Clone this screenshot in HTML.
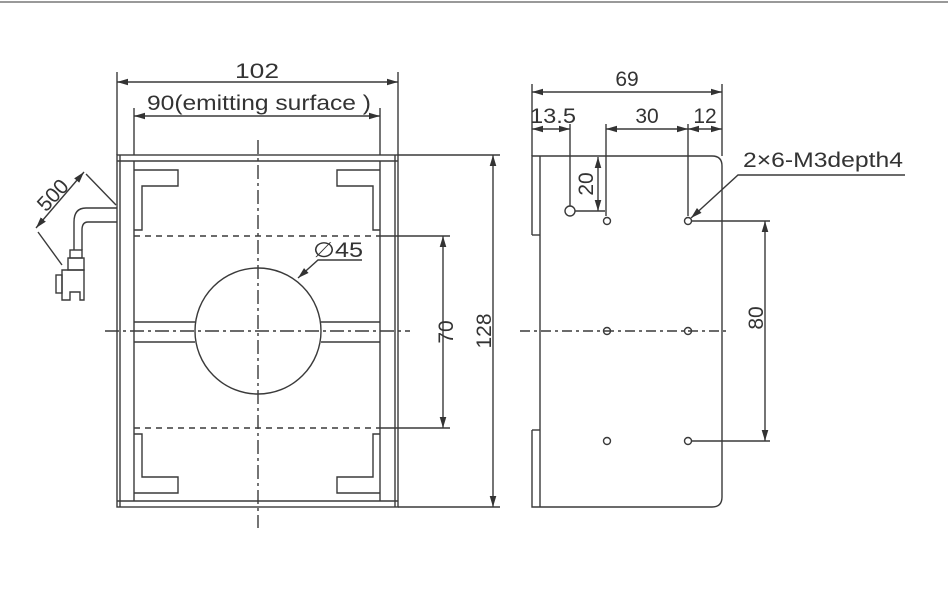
<!DOCTYPE html>
<html><head><style>body{margin:0;background:#fff}svg{display:block}text{font-family:"Liberation Sans",sans-serif;fill:#333}</style></head><body>
<svg width="948" height="614" viewBox="0 0 948 614" xmlns="http://www.w3.org/2000/svg">
<defs><marker id="a" viewBox="0 0 10 6" refX="10" refY="3" markerWidth="8" markerHeight="5" orient="auto-start-reverse"><path d="M0,0L10,3L0,6z" fill="#333"/></marker></defs>
<line x1="0" y1="2" x2="948" y2="2" stroke="#999" stroke-width="2"/>
<g stroke="#3a3a3a" stroke-width="1.4" fill="none">
<rect x="117" y="155" width="281" height="352"/>
<line x1="117" y1="161" x2="398" y2="161"/>
<line x1="117" y1="501" x2="398" y2="501"/>
<line x1="134" y1="161" x2="134" y2="501"/>
<line x1="380" y1="161" x2="380" y2="501"/>
<line x1="120" y1="155" x2="120" y2="507"/>
<line x1="395" y1="155" x2="395" y2="507"/>
<path d="M134,170H178V186H142V230H134"/>
<path d="M380,170H337V186H373V230H380"/>
<path d="M134,493H178V477H142V434H134"/>
<path d="M380,493H337V477H373V434H380"/>
<line x1="134" y1="322" x2="195" y2="322"/><line x1="134" y1="342" x2="195" y2="342"/>
<line x1="321" y1="322" x2="380" y2="322"/><line x1="321" y1="342" x2="380" y2="342"/>
<circle cx="258" cy="331" r="63"/>
<g stroke-dasharray="6,5"><line x1="134" y1="236" x2="380" y2="236"/><line x1="134" y1="428" x2="380" y2="428"/></g>
<g stroke-dasharray="14,4,3,4"><line x1="258" y1="140" x2="258" y2="528"/><line x1="105" y1="331" x2="410" y2="331"/></g>
<path d="M117,208H86Q74,208 74,222V250M117,222H88Q82,222 82,230V250"/>
<rect x="70" y="250" width="12" height="8"/><rect x="68" y="258" width="16" height="12"/>
<path d="M62,270H84V300H80V292H70V300H62Z"/><rect x="56" y="275" width="6" height="18"/>
<line x1="38" y1="232" x2="62" y2="265"/><line x1="86" y1="174" x2="116" y2="205"/>
<line x1="36" y1="228" x2="84" y2="172" marker-start="url(#a)" marker-end="url(#a)"/>
<line x1="117" y1="72" x2="117" y2="155"/><line x1="398" y1="72" x2="398" y2="155"/>
<line x1="117" y1="82" x2="398" y2="82" marker-start="url(#a)" marker-end="url(#a)"/>
<line x1="134" y1="108" x2="134" y2="155"/><line x1="380" y1="108" x2="380" y2="155"/>
<line x1="134" y1="116" x2="380" y2="116" marker-start="url(#a)" marker-end="url(#a)"/>
<line x1="398" y1="155" x2="500" y2="155"/><line x1="398" y1="507" x2="500" y2="507"/>
<line x1="493" y1="155" x2="493" y2="507" marker-start="url(#a)" marker-end="url(#a)"/>
<line x1="380" y1="236" x2="450" y2="236"/><line x1="380" y1="428" x2="450" y2="428"/>
<line x1="443" y1="236" x2="443" y2="428" marker-start="url(#a)" marker-end="url(#a)"/>
<path d="M362,260H318L298,278" marker-end="url(#a)"/>
<path d="M532,235V156H712Q722,156 722,166V497Q722,507 712,507H532V430"/>
<line x1="540" y1="156" x2="540" y2="507"/>
<line x1="532" y1="235" x2="540" y2="235"/><line x1="532" y1="430" x2="540" y2="430"/>
<circle cx="570" cy="211" r="5"/>
<circle cx="607" cy="221" r="3.5"/><circle cx="688" cy="221" r="3.5"/>
<circle cx="607" cy="331" r="3.5"/><circle cx="688" cy="331" r="3.5"/>
<circle cx="607" cy="441" r="3.5"/><circle cx="688" cy="441" r="3.5"/>
<line x1="520" y1="331" x2="730" y2="331" stroke-dasharray="10,4,3,4"/>
<line x1="532" y1="84" x2="532" y2="156"/><line x1="722" y1="84" x2="722" y2="156"/>
<line x1="532" y1="92" x2="722" y2="92" marker-start="url(#a)" marker-end="url(#a)"/>
<line x1="570" y1="124" x2="570" y2="206"/><line x1="606" y1="124" x2="606" y2="216"/><line x1="688" y1="124" x2="688" y2="216"/>
<line x1="532" y1="129" x2="570" y2="129" marker-start="url(#a)" marker-end="url(#a)"/>
<line x1="606" y1="129" x2="688" y2="129" marker-start="url(#a)" marker-end="url(#a)"/>
<line x1="688" y1="129" x2="722" y2="129" marker-start="url(#a)" marker-end="url(#a)"/>
<line x1="575" y1="211" x2="605" y2="211"/>
<line x1="598" y1="157" x2="598" y2="211" marker-start="url(#a)" marker-end="url(#a)"/>
<line x1="691" y1="221" x2="770" y2="221"/><line x1="691" y1="441" x2="770" y2="441"/>
<line x1="765" y1="221" x2="765" y2="441" marker-start="url(#a)" marker-end="url(#a)"/>
<path d="M905,175H738L691,218" marker-end="url(#a)"/>
</g>
<g font-size="21">
<text x="235" y="78" textLength="44" lengthAdjust="spacingAndGlyphs">102</text>
<text x="147" y="110" textLength="224" lengthAdjust="spacingAndGlyphs">90(emitting surface )</text>
<text x="313" y="257" textLength="50" lengthAdjust="spacingAndGlyphs">∅45</text>
<text transform="translate(453,332) rotate(-90)" text-anchor="middle">70</text>
<text transform="translate(491,331) rotate(-90)" text-anchor="middle">128</text>
<text transform="translate(58,200) rotate(-47)" text-anchor="middle">500</text>
<text x="627" y="86" text-anchor="middle">69</text>
<text x="530" y="123" textLength="46" lengthAdjust="spacingAndGlyphs">13.5</text>
<text x="647" y="123" text-anchor="middle">30</text>
<text x="705" y="123" text-anchor="middle">12</text>
<text transform="translate(593,184) rotate(-90)" text-anchor="middle">20</text>
<text transform="translate(763,318) rotate(-90)" text-anchor="middle">80</text>
<text x="743" y="167" textLength="160" lengthAdjust="spacingAndGlyphs">2×6-M3depth4</text>
</g>
</svg>
</body></html>
